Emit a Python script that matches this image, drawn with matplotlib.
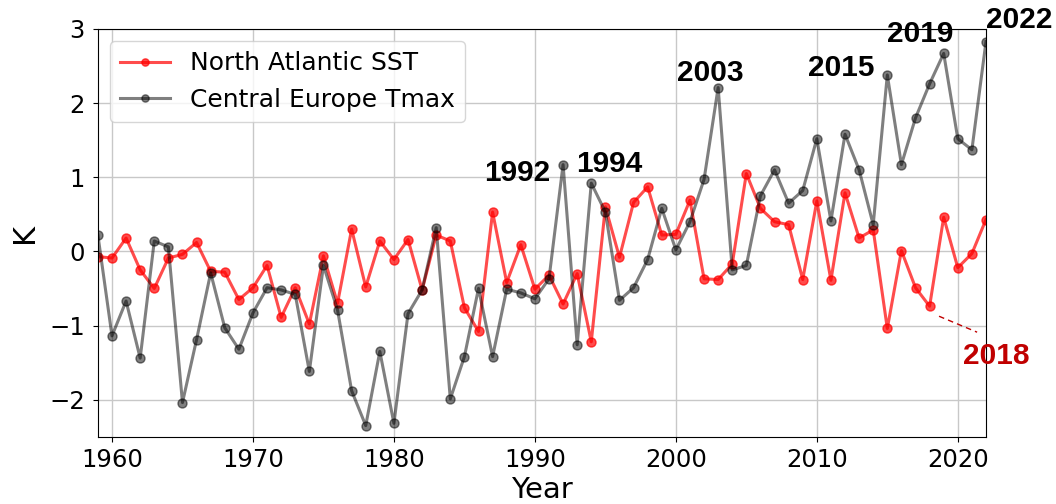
import matplotlib
matplotlib.use("Agg")
import matplotlib.pyplot as plt
import numpy as np

years = list(range(1959, 2023))

sst = [-0.07, -0.09, 0.18, -0.25, -0.50, -0.09, -0.04, 0.12, -0.27, -0.28,
       -0.65, -0.49, -0.19, -0.89, -0.49, -0.98, -0.06, -0.70, 0.30, -0.48,
       0.14, -0.11, 0.16, -0.52, 0.22, 0.14, -0.76, -1.08, 0.53, -0.42,
       0.09, -0.51, -0.32, -0.71, -0.30, -1.22, 0.60, -0.08, 0.66, 0.87,
       0.22, 0.23, 0.69, -0.37, -0.38, -0.17, 1.05, 0.58, 0.40, 0.36,
       -0.38, 0.68, -0.39, 0.79, 0.18, 0.29, -1.04, 0.01, -0.49, -0.74,
       0.46, -0.22, -0.03, 0.43]

tmax = [0.22, -1.14, -0.67, -1.44, 0.14, 0.06, -2.04, -1.19, -0.29, -1.03,
        -1.32, -0.83, -0.49, -0.52, -0.58, -1.62, -0.19, -0.79, -1.88, -2.35,
        -1.35, -2.32, -0.84, -0.52, 0.32, -1.99, -1.42, -0.50, -1.42, -0.51,
        -0.56, -0.64, -0.37, 1.17, -1.26, 0.92, 0.53, -0.66, -0.49, -0.11,
        0.58, 0.02, 0.40, 0.97, 2.21, -0.25, -0.19, 0.75, 1.10, 0.65,
        0.82, 1.52, 0.41, 1.58, 1.10, 0.36, 2.38, 1.17, 1.80, 2.26,
        2.67, 1.52, 1.37, 2.83]

labels = ["1992", "1994", "2003", "2015", "2019", "2022"]
label_pos = [(1986.4, 0.95), (1992.9, 1.07), (2000.1, 2.30), (2009.4, 2.36),
             (2015.0, 2.83), (2022.0, 3.01)]
label18 = "2018"
label18_pos = (2020.4, -1.525)
dash18 = ([2018.67, 2021.37], [-0.875, -1.09])

fig = plt.figure(figsize=(10.56, 5.04), dpi=100)
ax = fig.add_axes([0.0927, 0.1335, 0.841, 0.809])

ax.plot(years, sst, color="red", alpha=0.7, lw=2.2, marker="o", ms=6.5,
        label="North Atlantic SST")
ax.plot(years, tmax, color="black", alpha=0.5, lw=2.2, marker="o", ms=6.5,
        label="Central Europe Tmax")

ax.set_xlim(1959, 2022)
ax.set_ylim(-2.5, 3)
ax.set_yticks([-2, -1, 0, 1, 2, 3])
ax.grid(True, color="#c8c8c8", lw=1.0)
ax.tick_params(labelsize=17.5)
ax.tick_params(axis="y", pad=6)
ax.tick_params(axis="x", pad=4.5)
ax.set_xlabel("Year", fontsize=21, labelpad=3)
ax.set_ylabel("K", fontsize=22, labelpad=7)

for t, (x, y) in zip(labels, label_pos):
    ax.text(x, y, t, fontsize=21.5, fontweight="bold", family="Liberation Sans",
            ha="left", va="baseline", clip_on=False, zorder=5)
ax.text(label18_pos[0], label18_pos[1], label18, fontsize=21.5, fontweight="bold",
        family="Liberation Sans", color="#c00000", ha="left", va="baseline",
        clip_on=False, zorder=5)
ax.plot(dash18[0], dash18[1], color="#c00000", lw=1.0, ls=(0, (4, 3)),
        clip_on=False, zorder=5)

ax.legend(loc="upper left", fontsize=18, framealpha=0.8, markerscale=0.8)

fig.savefig("out.png", dpi=100)
